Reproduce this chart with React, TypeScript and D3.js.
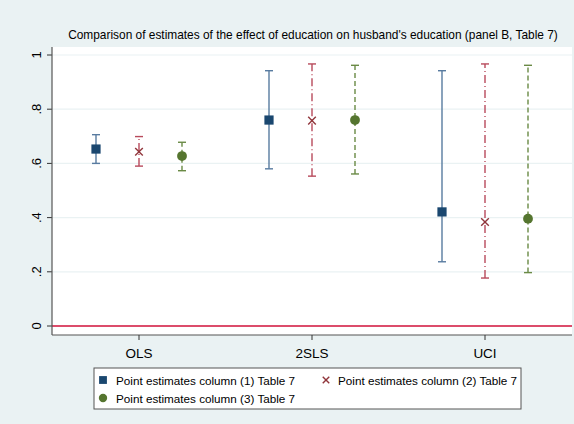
import React from "react";
import * as d3 from "d3";

const categories = ["OLS", "2SLS", "UCI"];
const seriesNames = [
  "Point estimates column (1) Table 7",
  "Point estimates column (2) Table 7",
  "Point estimates column (3) Table 7",
];
const col1Est = [0.653, 0.76, 0.421];
const col1Lo = [0.6, 0.58, 0.237];
const col1Hi = [0.706, 0.942, 0.942];
const col2Est = [0.643, 0.758, 0.384];
const col2Lo = [0.59, 0.553, 0.177];
const col2Hi = [0.699, 0.967, 0.967];
const col3Est = [0.627, 0.76, 0.396];
const col3Lo = [0.573, 0.561, 0.197];
const col3Hi = [0.678, 0.962, 0.962];
const yTicks = [0, 0.2, 0.4, 0.6, 0.8, 1];
const yTickLabels = ["0", ".2", ".4", ".6", ".8", "1"];
const title =
  "Comparison of estimates of the effect of education on husband's education (panel B, Table 7)";

const W = 574;
const H = 424;
const L = 52;
const R = 572;
const T = 47;
const B = 335;

const FONT = "'Liberation Sans', Arial, sans-serif";

export default function App() {
  const y = d3.scaleLinear().domain([0, 1]).range([326, 55]);
  const x = d3.scalePoint<string>().domain(categories).range([139, 485]);
  const offset = 43;

  const series = [
    { est: col1Est, lo: col1Lo, hi: col1Hi, line: "#587ba0", mark: "#1a476f", dash: "none", marker: "square", off: -offset },
    { est: col2Est, lo: col2Lo, hi: col2Hi, line: "#b84a5c", mark: "#90353b", dash: "8 3 1 3", marker: "x", off: 0 },
    { est: col3Est, lo: col3Lo, hi: col3Hi, line: "#6a8a45", mark: "#55752f", dash: "5 3", marker: "circle", off: offset },
  ];

  const drawMarker = (type: string, cx: number, cy: number, color: string, key: string, s = 1) => {
    if (type === "square") {
      const h = 4.6 * s;
      return <rect key={key} x={cx - h} y={cy - h} width={2 * h} height={2 * h} fill={color} />;
    }
    if (type === "circle") {
      return <circle key={key} cx={cx} cy={cy} r={4.9 * s} fill={color} />;
    }
    const h = 3.8 * s;
    return (
      <g key={key} stroke={color} strokeWidth={1.4}>
        <line x1={cx - h} y1={cy - h} x2={cx + h} y2={cy + h} />
        <line x1={cx - h} y1={cy + h} x2={cx + h} y2={cy - h} />
      </g>
    );
  };

  return (
    <svg width={W} height={H} style={{ display: "block", position: "absolute", left: 0, top: 0 }} fontFamily={FONT}>
      <rect x={0} y={0} width={W} height={H} fill="#eaf2f3" />
      <rect x={L} y={T} width={R - L} height={B - T} fill="#ffffff" />
      <text x={313} y={39} textAnchor="middle" fontSize={11.9} fill="#000">
        {title}
      </text>
      {yTicks.map((t, i) => (
        <g key={"g" + i}>
          {t > 0 && <line x1={L} x2={R} y1={y(t)} y2={y(t)} stroke="#eaf2f3" strokeWidth={1.2} />}
          <line x1={L - 5} x2={L} y1={y(t)} y2={y(t)} stroke="#333" strokeWidth={1} />
          <text
            transform={`translate(${40.5},${y(t)}) rotate(-90)`}
            textAnchor="middle"
            fontSize={13}
            fill="#000"
          >
            {yTickLabels[i]}
          </text>
        </g>
      ))}
      <line x1={L} x2={R} y1={y(0)} y2={y(0)} stroke="#d0103a" strokeWidth={1.6} />
      {series.map((s, si) =>
        categories.map((c, ci) => {
          const cx = (x(c) as number) + s.off;
          return (
            <g key={`s${si}-${ci}`}>
              <line x1={cx} x2={cx} y1={y(s.lo[ci])} y2={y(s.hi[ci])} stroke={s.line} strokeWidth={1.4} strokeDasharray={s.dash} />
              <line x1={cx - 4} x2={cx + 4} y1={y(s.lo[ci])} y2={y(s.lo[ci])} stroke={s.line} strokeWidth={1.4} />
              <line x1={cx - 4} x2={cx + 4} y1={y(s.hi[ci])} y2={y(s.hi[ci])} stroke={s.line} strokeWidth={1.4} />
              {drawMarker(s.marker, cx, y(s.est[ci]), s.mark, "m")}
            </g>
          );
        })
      )}
      <line x1={L} x2={L} y1={T} y2={B} stroke="#555" strokeWidth={1.2} />
      <line x1={L} x2={R} y1={B} y2={B} stroke="#555" strokeWidth={1.2} />
      {categories.map((c) => (
        <g key={c}>
          <line x1={x(c) as number} x2={x(c) as number} y1={B} y2={B + 5} stroke="#333" strokeWidth={1} />
          <text x={x(c) as number} y={357.5} textAnchor="middle" fontSize={13.5} fill="#000">
            {c}
          </text>
        </g>
      ))}
      <rect x={94} y={368} width={427} height={41} fill="#fff" stroke="#555" strokeWidth={1} />
      {[
        { mx: 103, my: 380, tx: 116, ty: 384.5 },
        { mx: 326, my: 380, tx: 338, ty: 384.5 },
        { mx: 103, my: 398, tx: 116, ty: 402.5 },
      ].map((p, i) => (
        <g key={"leg" + i}>
          {drawMarker(series[i].marker, p.mx, p.my, series[i].mark, "lm", 0.85)}
          <text x={p.tx} y={p.ty} fontSize={11.7} fill="#000">
            {seriesNames[i]}
          </text>
        </g>
      ))}
    </svg>
  );
}
